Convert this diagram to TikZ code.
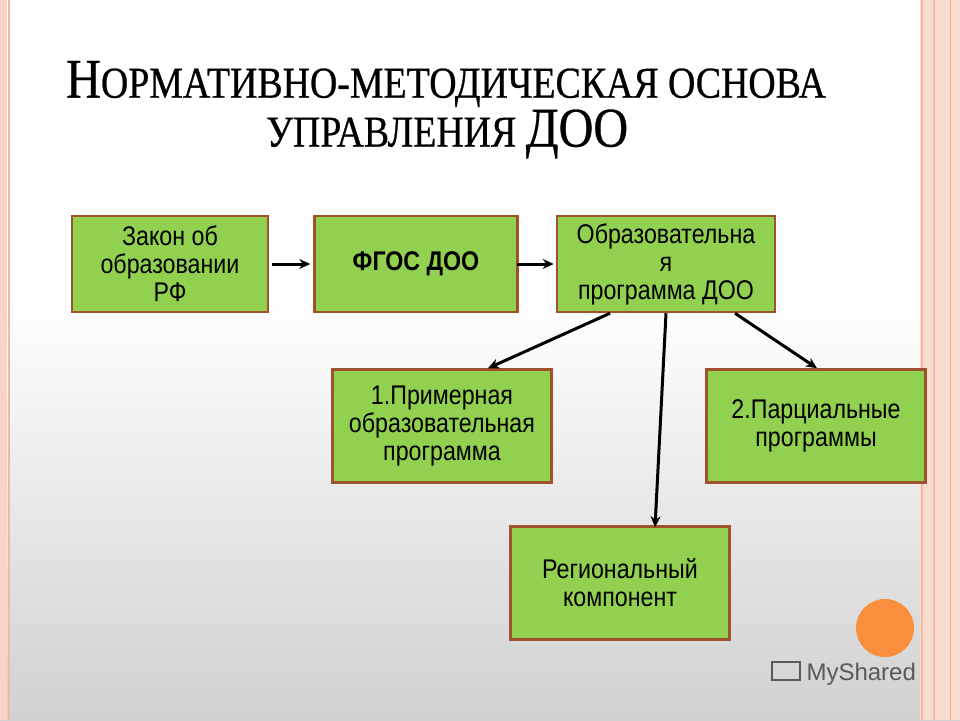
\documentclass[tikz,border=0pt]{standalone}
\usepackage{fontspec}
\setmainfont{Liberation Serif}
\setsansfont{Liberation Sans}
\newfontfamily\titlef[FakeStretch=0.86,FakeBold=0.6]{Liberation Serif}
\newfontfamily\boxf[FakeStretch=0.86]{Liberation Sans}
\usetikzlibrary{arrows.meta}
\definecolor{boxg}{HTML}{92D050}
\definecolor{boxb}{HTML}{A0522D}
\definecolor{pinkl}{HTML}{F4B8A0}
\definecolor{orng}{HTML}{F98E3D}
\begin{document}
\begin{tikzpicture}[x=1pt,y=-1pt,
  box/.style={draw=boxb,line width=2.5pt,fill=boxg,minimum width=#1,align=center,font=\boxf\fontsize{27}{28}\selectfont,inner sep=2pt},
  arr/.style={-{Stealth[length=11pt,width=10pt]},line width=3pt}]
\useasboundingbox (0,0) rectangle (960,720);
\fill[white] (0,0) rectangle (960,300);
\shade[top color=white,bottom color=black!18] (0,300) rectangle (960,720);
\fill[pinkl!60] (0,0) rectangle (7,720);
\draw[pinkl,line width=1.5pt] (9,0) -- (9,720);
\fill[pinkl!50] (920,0) rectangle (960,720);
\draw[pinkl,line width=2pt] (922,0) -- (922,720);
\draw[pinkl,line width=1.5pt] (934,0) -- (934,720);
\draw[pinkl!80!orange,line width=1pt] (950,0) -- (950,720);
\node[font=\titlef\fontsize{56}{60}\selectfont,anchor=west,inner sep=0pt] (t1) at (66,84) {Н\fontsize{44}{48}\selectfont ОРМАТИВНО-МЕТОДИЧЕСКАЯ ОСНОВА};
\node[font=\titlef\fontsize{44}{48}\selectfont,anchor=west,inner sep=0pt] (t2) at (266,134) {УПРАВЛЕНИЯ \fontsize{56}{60}\selectfont ДОО};
\node[box=196pt,minimum height=96pt] (a) at (170,264) {Закон об\\образовании\\РФ};
\node[box=203pt,minimum height=96pt,font=\boxf\bfseries\fontsize{27}{28}\selectfont] (b) at (416,264) {ФГОС ДОО};
\node[box=218pt,minimum height=96pt] (c) at (666,264) {Образовательна\\я\\программа ДОО};
\node[box=219pt,minimum height=113pt] (d) at (442,426) {1.Примерная\\образовательная\\программа};
\node[box=219pt,minimum height=113pt] (e) at (816,426) {2.Парциальные\\программы};
\node[box=219pt,minimum height=113pt] (f) at (620,583) {Региональный\\компонент};
\draw[arr] (a.east)++(3,0) -- ([xshift=-3pt]b.west);
\draw[arr] (b.east)++(-2,0) -- ([xshift=-2pt]c.west);
\draw[arr] ([xshift=-56pt]c.south) -- ([xshift=46pt]d.north);
\draw[arr] (c.south) -- ([xshift=35pt,yshift=-2pt]f.north);
\draw[arr] ([xshift=69pt]c.south) -- ([xshift=1pt]e.north);
\fill[orng] (885,628) circle (29);
\node[font=\sffamily\fontsize{24}{26}\selectfont,text=black!65,anchor=west] (logo) at (803,674) {MyShared};
\draw[black!65,line width=1.5pt] (772,662) rectangle (800,680);
\end{tikzpicture}
\end{document}
